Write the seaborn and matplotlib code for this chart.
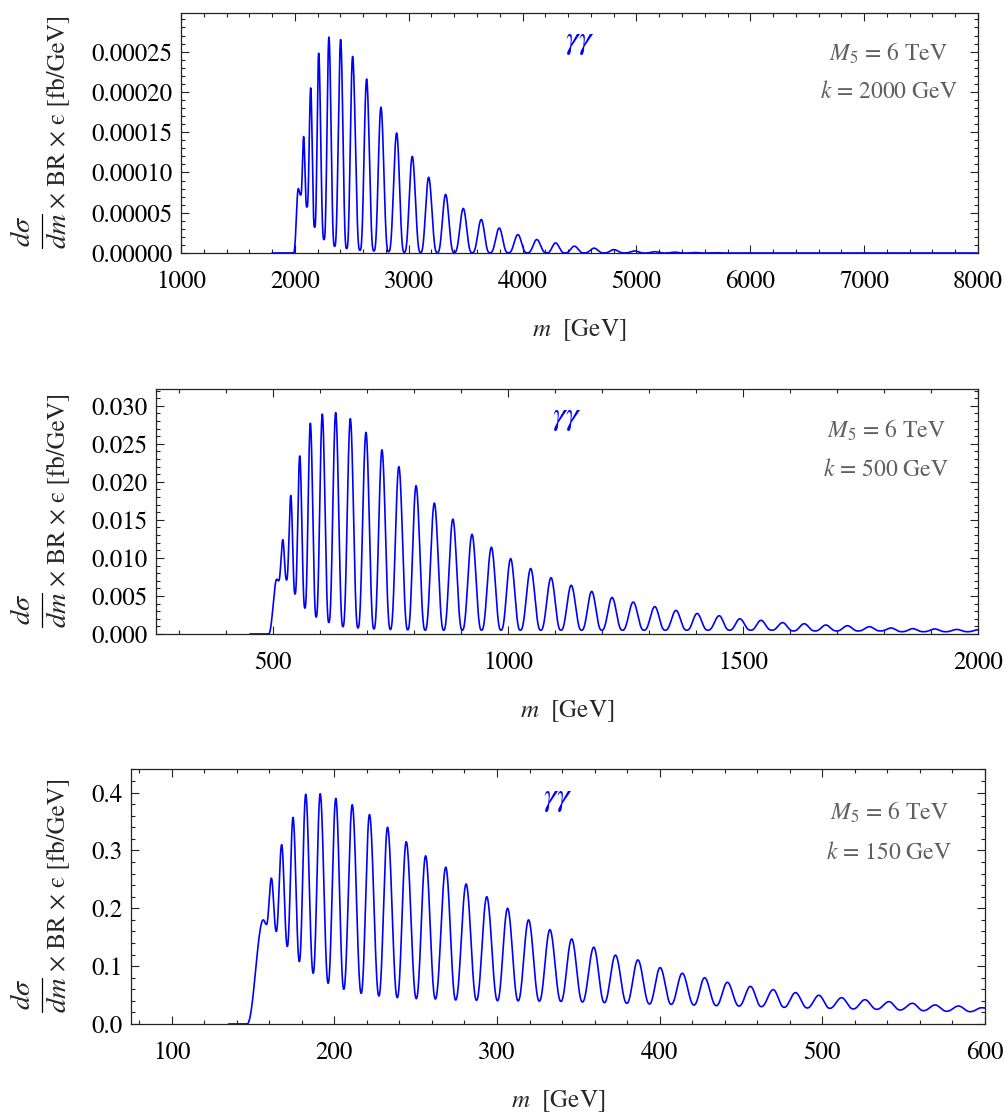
import numpy as np
import pandas as pd
import matplotlib
matplotlib.use("Agg")
import matplotlib.pyplot as plt
from matplotlib.lines import Line2D
import seaborn as sns
from matplotlib.ticker import MultipleLocator, FormatStrFormatter

# ---------------- data ----------------
# Panel 1 : k = 2000 GeV
top_peak_m = [2030, 2077, 2139, 2209, 2299, 2402, 2507, 2630, 2756, 2894, 3031, 3175,
              3324, 3479, 3637, 3795, 3959, 4125, 4290, 4455, 4628, 4802, 4986, 5162,
              5337, 5513, 5690]
top_peak_v = [8.0e-5, 1.445e-4, 2.05e-4, 2.48e-4, 2.68e-4, 2.65e-4, 2.44e-4, 2.16e-4,
              1.81e-4, 1.49e-4, 1.20e-4, 9.4e-5, 7.27e-5, 5.53e-5, 4.16e-5, 3.1e-5,
              2.29e-5, 1.67e-5, 1.25e-5, 8.5e-6, 6.0e-6, 4.2e-6, 2.5e-6, 1.6e-6,
              1.0e-6, 0.6e-6, 0.4e-6]
top_trough_m = [1800, 1986, 2051, 2106, 2174, 2256, 2349, 2455, 2572, 2694, 2823, 2961,
                3104, 3251, 3400, 3557, 3713, 3874, 4041, 4211, 4372, 4540, 4715, 4894,
                5074, 5250, 5425, 5600, 5780, 8000]
top_trough_v = [0, 0, 7.2e-5, 5.7e-5, 3.2e-5, 1.67e-5, 8.3e-6, 5.5e-6, 3.4e-6, 2.5e-6,
                1.7e-6, 1.0e-6, 0.8e-6, 0.6e-6, 0.5e-6, 0.4e-6, 0.3e-6, 0.3e-6, 0.2e-6,
                0.2e-6, 0.1e-6, 0.1e-6, 0.1e-6, 0.1e-6, 0, 0, 0, 0, 0, 0]

# Panel 2 : k = 500 GeV
mid_peak_m = [507, 520, 537, 556, 578.6, 604, 632.5, 663.7, 697, 731, 767, 803.6, 842.6,
              882, 922.8, 964, 1005, 1047.7, 1091, 1134, 1177.6, 1221, 1266, 1312, 1357,
              1402, 1449, 1493, 1538, 1584, 1630, 1676, 1722, 1769, 1815, 1861, 1908,
              1955, 2000]
mid_peak_v = [0.0072, 0.0124, 0.0182, 0.0234, 0.0277, 0.0289, 0.0291, 0.0283, 0.0265,
              0.0242, 0.0220, 0.0195, 0.0172, 0.0151, 0.0131, 0.0114, 0.0099, 0.0086,
              0.0074, 0.0064, 0.0056, 0.0048, 0.0042, 0.0036, 0.0031, 0.0027, 0.0024,
              0.0020, 0.0018, 0.0015, 0.00135, 0.00118, 0.00109, 0.00096, 0.00079,
              0.0007, 0.00066, 0.0006, 0.00055]
mid_trough_m = [450, 489, 511, 528, 546, 567, 591, 618, 648, 680, 714, 749, 786, 823,
                862.5, 902, 943, 984.5, 1025.6, 1069, 1112, 1156, 1199, 1243, 1289, 1334,
                1380, 1425, 1471, 1516, 1561, 1607, 1653, 1699, 1745, 1792, 1838, 1884,
                1931, 1978]
mid_trough_v = [0, 0, 0.0070, 0.0071, 0.00525, 0.0034, 0.00223, 0.00152, 0.00096,
                0.00079, 0.00066, 0.0006, 0.00055, 0.0005, 0.0005, 0.0005, 0.0005,
                0.0005, 0.0005, 0.0005, 0.0005, 0.0005, 0.0005, 0.0005, 0.0005, 0.0005,
                0.0005, 0.0005, 0.0005, 0.0005, 0.0005, 0.0004, 0.0004, 0.0004, 0.0004,
                0.0004, 0.0003, 0.0003, 0.0003, 0.0003]

# Panel 3 : k = 150 GeV
bot_peak_m = [156.3, 161.3, 167.6, 174.6, 182.4, 191.3, 200.9, 211, 221.6, 232.7, 244.2,
              256.1, 268.5, 281, 293.7, 306.5, 319.4, 332.5, 345.9, 359.5, 372.8, 386.6,
              400.3, 413.9, 427.6, 441.6, 455.8, 469.8, 483.5, 497.9, 511.8, 526.2, 541,
              555.4, 569.3, 583.7, 598.1]
bot_peak_v = [0.180, 0.252, 0.310, 0.357, 0.397, 0.398, 0.390, 0.379, 0.362, 0.340, 0.315,
              0.2906, 0.271, 0.242, 0.220, 0.200, 0.180, 0.163, 0.147, 0.1327, 0.119,
              0.1107, 0.0975, 0.0877, 0.080, 0.072, 0.065, 0.0594, 0.0542, 0.0496,
              0.0455, 0.042, 0.0386, 0.0358, 0.0329, 0.0311, 0.0282]
bot_trough_m = [135, 146.3, 158.3, 164.3, 171.1, 178.5, 187, 196.2, 205.8, 216.5, 227.4,
                238.7, 250.4, 262.1, 274.6, 287.4, 300.3, 313, 326, 339.3, 352.5, 366,
                379.8, 393.7, 407.1, 421.1, 434.8, 448.8, 462.5, 476.5, 490.7, 504.6,
                519, 533.4, 547.8, 562.2, 576.5, 590.9, 600]
bot_trough_v = [0, 0, 0.172, 0.160, 0.134, 0.108, 0.0877, 0.0704, 0.060, 0.053, 0.0484,
                0.0455, 0.0438, 0.0432, 0.0415, 0.041, 0.0403, 0.040, 0.0395, 0.039,
                0.038, 0.0369, 0.0358, 0.0346, 0.034, 0.0328, 0.0317, 0.031, 0.030,
                0.0288, 0.0277, 0.0271, 0.026, 0.0254, 0.0242, 0.023, 0.022, 0.0213,
                0.0275]

panel_labels = [r"$k$ = 2000 GeV", r"$k$ = 500 GeV", r"$k$ = 150 GeV"]
m5_label = r"$M_5$ = 6 TeV"
channel_label = r"$\gamma\gamma$"
x_label = r"$m$  [GeV]"
y_num, y_den, y_rest = r"$d\sigma$", r"$dm$", "\u00d7 BR \u00d7 \u03f5 [fb/GeV]"
x_limits = [(1000, 8000), (250, 2000), (75, 600)]
y_limits = [(0, 0.000298), (0, 0.0322), (0, 0.4407)]
x_major = [1000, 500, 100]
x_minor = [200, 100, 20]
y_major = [0.00005, 0.005, 0.1]
y_minor = [0.00001, 0.001, 0.02]
y_fmt = ["%.5f", "%.3f", "%.1f"]


def line_shape(pm, pv, tm, tv, sharp, n=40):
    m = np.array(list(pm) + list(tm), dtype=float)
    v = np.array(list(pv) + list(tv), dtype=float)
    o = np.argsort(m, kind="stable")
    m, v = m[o], v[o]
    xs, ys = [], []
    t = np.linspace(0, 1, n, endpoint=False)
    for i in range(len(m) - 1):
        m0, m1, v0, v1 = m[i], m[i + 1], v[i], v[i + 1]
        if v1 >= v0:
            u = 1 - t
            y = v0 + (v1 - v0) * ((1 + np.cos(np.pi * u)) / 2) ** sharp
        else:
            u = t
            y = v1 + (v0 - v1) * ((1 + np.cos(np.pi * u)) / 2) ** sharp
        xs.append(m0 + (m1 - m0) * t)
        ys.append(y)
    xs.append([m[-1]])
    ys.append([v[-1]])
    return pd.DataFrame({"m": np.concatenate(xs), "v": np.concatenate(ys)})


curves = [
    line_shape(top_peak_m, top_peak_v, top_trough_m, top_trough_v, 1.5),
    line_shape(mid_peak_m, mid_peak_v, mid_trough_m, mid_trough_v, 1.3),
    line_shape(bot_peak_m, bot_peak_v, bot_trough_m, bot_trough_v, 1.1),
]

# ---------------- style ----------------
sns.set_theme(style="ticks")
plt.rcParams.update({
    "font.family": ["STIXGeneral", "DejaVu Serif"],
    "mathtext.fontset": "stix",
    "axes.edgecolor": "#222222",
    "axes.linewidth": 0.9,
    "xtick.color": "#222222",
    "ytick.color": "#222222",
    "xtick.labelcolor": "black",
    "ytick.labelcolor": "black",
})

W, H = 1005, 1113
fig = plt.figure(figsize=(W / 100, H / 100), dpi=100)

# axes boxes in pixels: left, top, right, bottom
boxes = [(181, 13, 978, 253), (156, 389, 978, 634), (131, 769, 985, 1024)]


def fx(px):
    return px / W


def fy(py):
    return 1 - py / H


for i, (l, t, r, b) in enumerate(boxes):
    ax = fig.add_axes([l / W, 1 - b / H, (r - l) / W, (b - t) / H])
    sns.lineplot(data=curves[i], x="m", y="v", ax=ax, color="#0000ff", lw=1.2,
                 sort=False, estimator=None)
    ax.set_xlim(*x_limits[i])
    ax.set_ylim(*y_limits[i])
    ax.xaxis.set_major_locator(MultipleLocator(x_major[i]))
    ax.xaxis.set_minor_locator(MultipleLocator(x_minor[i]))
    ax.yaxis.set_major_locator(MultipleLocator(y_major[i]))
    ax.yaxis.set_minor_locator(MultipleLocator(y_minor[i]))
    ax.yaxis.set_major_formatter(FormatStrFormatter(y_fmt[i]))
    ax.xaxis.set_major_formatter(FormatStrFormatter("%d"))
    ax.tick_params(which="both", direction="in", top=True, right=True, width=0.8)
    ax.tick_params(which="major", length=6)
    ax.tick_params(which="minor", length=3)
    ax.tick_params(axis="x", which="major", labelsize=18, pad=12)
    ax.tick_params(axis="y", which="major", labelsize=18, pad=6)

    ax.set_xlabel(x_label, fontsize=18)
    ax.xaxis.set_label_coords(0.5, -(64) / (b - t))
    ax.set_ylabel("")

    # stacked-fraction y label built from pieces
    yc = (t + b) / 2
    yf = yc + 98
    fig.text(fx(23), fy(yf), y_num, rotation=90, fontsize=20.5, ha="center", va="center")
    fig.text(fx(59), fy(yf), y_den, rotation=90, fontsize=20.5, ha="center", va="center")
    fig.add_artist(Line2D([fx(41.7), fx(41.7)], [fy(yf - 17), fy(yf + 17)],
                          color="black", lw=0.9))
    fig.text(fx(58), fy(yc - 22), y_rest, rotation=90, fontsize=18, ha="center",
             va="center")

    ax.text(0.5, 0.88, channel_label, transform=ax.transAxes, color="#0000ff",
            fontsize=23, ha="center", va="center")
    ax.text(0.888, 0.83, m5_label, transform=ax.transAxes, color="#5f5f5f",
            fontsize=17, ha="center", va="center")
    ax.text(0.888, 0.67, panel_labels[i], transform=ax.transAxes, color="#5f5f5f",
            fontsize=17, ha="center", va="center")

fig.savefig("out.png", dpi=100)
